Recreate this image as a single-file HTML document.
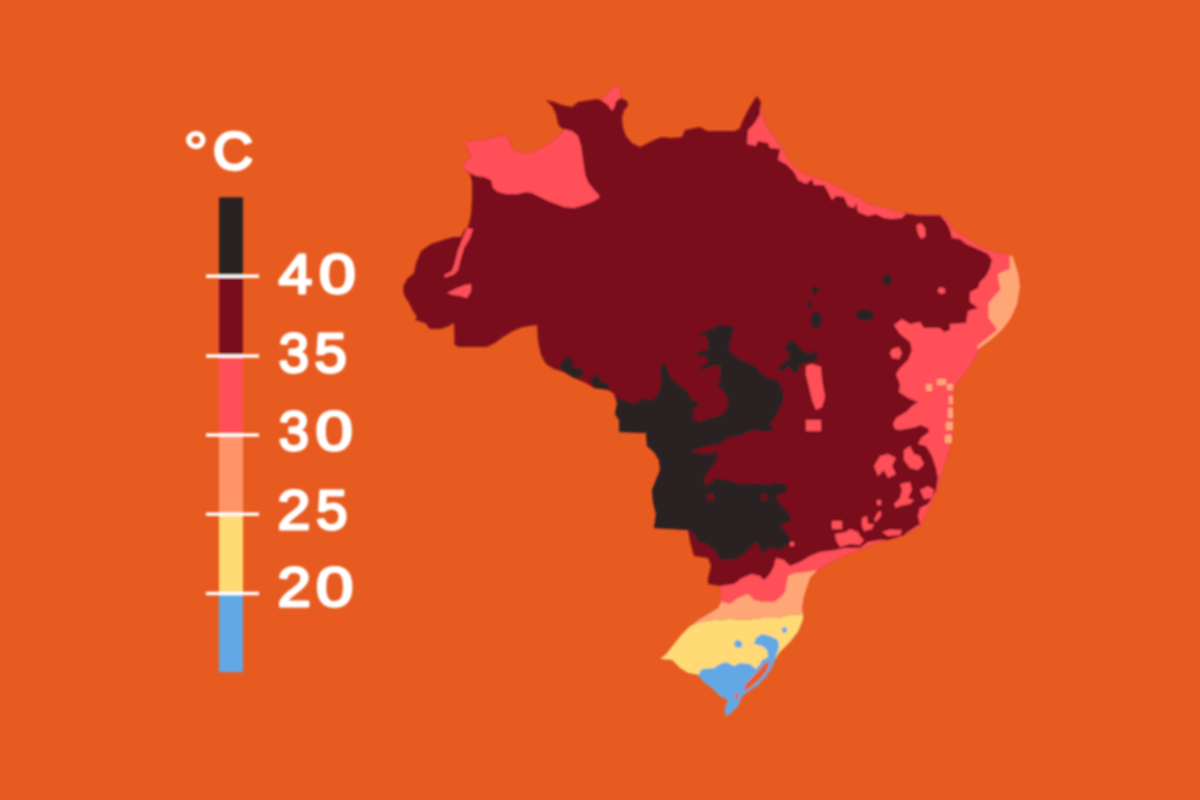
<!DOCTYPE html>
<html lang="pt-BR">
<head>
<meta charset="utf-8">
<title>Mapa de temperaturas do Brasil</title>
<style>
html,body{margin:0;padding:0;background:#E85B20;}
body{width:1200px;height:800px;overflow:hidden;position:relative;font-family:"Liberation Sans",sans-serif;}
svg{position:absolute;left:0;top:0;display:block;}
.lbl{font-family:"Liberation Sans",sans-serif;font-weight:normal;fill:#fff;stroke:#fff;stroke-width:2.8;stroke-linejoin:round;}
</style>
</head>
<body>
<svg width="1200" height="800" viewBox="0 0 1200 800">
<rect width="1200" height="800" fill="#E85B20"/>
<defs><filter id="soft" x="-5%" y="-5%" width="110%" height="110%"><feGaussianBlur stdDeviation="0.9"/></filter></defs>
<g id="legend" filter="url(#soft)">
<rect x="219" y="197.3" width="24" height="78.9" fill="#2A2023"/>
<rect x="219" y="276.2" width="24" height="79.8" fill="#7A0C1E"/>
<rect x="219" y="356" width="24" height="79.0" fill="#FF4F58"/>
<rect x="219" y="435" width="24" height="79.2" fill="#FF9468"/>
<rect x="219" y="514.2" width="24" height="79.3" fill="#FFDA75"/>
<rect x="219" y="593.5" width="24" height="78.5" fill="#62A8E5"/>
<rect x="206" y="274.5" width="53" height="3.4" fill="#fff"/>
<rect x="206" y="354.3" width="53" height="3.4" fill="#fff"/>
<rect x="206" y="433.3" width="53" height="3.4" fill="#fff"/>
<rect x="206" y="512.5" width="53" height="3.4" fill="#fff"/>
<rect x="206" y="591.8" width="53" height="3.4" fill="#fff"/>
<text class="lbl" aria-label="°C" y="169.9" font-size="57" style="stroke-width:3.4"><tspan x="183.57" dy="2.5" textLength="24.81" lengthAdjust="spacingAndGlyphs" style="stroke-width:2">°</tspan><tspan x="213.31" dy="-3.3" textLength="39.43" lengthAdjust="spacingAndGlyphs" style="font-size:52.3px">C</tspan></text>
<text class="lbl" aria-label="40" y="292.9" font-size="55.2"><tspan x="278.7" textLength="33.5" lengthAdjust="spacingAndGlyphs">4</tspan><tspan x="319.13" textLength="36.77" lengthAdjust="spacingAndGlyphs">0</tspan></text>
<text class="lbl" aria-label="35" y="372.4" font-size="55.2"><tspan x="278.75" textLength="30.29" lengthAdjust="spacingAndGlyphs">3</tspan><tspan x="314.63" textLength="32.33" lengthAdjust="spacingAndGlyphs">5</tspan></text>
<text class="lbl" aria-label="30" y="449.9" font-size="55.2"><tspan x="278.75" textLength="30.29" lengthAdjust="spacingAndGlyphs">3</tspan><tspan x="315.61" textLength="37.29" lengthAdjust="spacingAndGlyphs">0</tspan></text>
<text class="lbl" aria-label="25" y="528.6" font-size="55.2"><tspan x="277.57" textLength="32.85" lengthAdjust="spacingAndGlyphs">2</tspan><tspan x="316.16" textLength="31.26" lengthAdjust="spacingAndGlyphs">5</tspan></text>
<text class="lbl" aria-label="20" y="605.9" font-size="55.2"><tspan x="277.55" textLength="33.4" lengthAdjust="spacingAndGlyphs">2</tspan><tspan x="316.11" textLength="37.29" lengthAdjust="spacingAndGlyphs">0</tspan></text>
</g>
<g id="map" filter="url(#soft)">
<path d="M466,140 L476,141 L488,139 L498,136 L506,135 L509,140 L511,147 L518,152 L528,153 L538,150 L548,144 L556,138 L562,132 L563,128.5 L560,127 L558,124 L556,114 L552,106 L546,100 L554,102 L562,105 L572,107 L578,102 L590,100 L598,99 L602,101 L604,96 L610,90 L616,85 L620,88 L621,98 L627,101 L628,106 L624,110 L622,118 L623,128 L626,136 L632,143 L640,147 L646,144 L654,140 L662,137 L670,138 L682,137 L685,130 L690,129 L700,127 L707,131 L735,131 L740,128 L742,122 L748,110 L754,100 L757,96 L761,102 L761,110 L766,126 L774,136 L782,148 L788,160 L798,170 L810,176 L824,180 L836,186 L848,192 L860,198 L868,204 L880,207 L892,210 L902,213 L906,212.5 L920,214.5 L940,214.5 L948,220 L952,228 L960,234 L970,240 L984,248 L996,252 L1008,255 L1014,262 L1018.5,274.5 L1020,287 L1017,304.5 L1011,318 L1002,330 L990,340.5 L980,349 L974,360 L968,370 L960,380 L955,386 L953,400 L954,420 L952,440 L948,454 L944,466 L940,480 L936,494 L930,506 L924,518 L918,528 L908,534 L896,538 L880,542 L864,548 L850,554 L836,560 L820,569 L810,578 L808,584 L804,596 L802,608 L803,620 L798,632 L790,642 L780,652 L775,660 L771.5,668 L766,676.5 L758,685 L748,691.5 L742,696 L738,706 L730,714 L725,716 L725,708 L728,700 L720,696 L712,688 L704,682 L698,675 L688,673 L680,668 L672,660 L660,659 L666,654 L674,644 L682,634 L690,626 L698,620 L708,614 L718,608 L722,600 L720,586 L708,584 L708,578 L711,566 L708,558 L694,556 L690,542 L688,530 L654,528 L656,514 L653,502 L652,490 L656,480 L660,470 L659,460 L654,452 L647,446 L646,433 L619,432 L619,420 L615,414 L617,404 L614,394 L608,390 L594,388 L586,383 L574,378 L564,372 L554,369 L546,364 L541,355 L538,341 L537,325 L523,327 L513,331 L503,337 L495,343 L487,347 L459,347 L454.6,345 L454,323 L449,326 L441,329 L430,329 L425,323 L415,320 L417,317 L413,311 L409,303 L404,295 L403,287 L407,279 L414,273 L416,263 L421,251 L431,244 L443,240 L453,237 L461,237 L465,229 L467,228 L469,224 L471,214 L472,200 L472,182 L470,174 L463,169 L465,162 L472,156 L468,150 L466,144Z" fill="#7A0C1E"/>
<path d="M466,140 L476,141 L488,139 L498,136 L506,135 L509,140 L511,147 L518,152 L528,153 L538,150 L548,144 L556,138 L562,132 L564,129 L572,131 L578,136 L581,146 L583,160 L585,174 L588,182 L594,190 L599,195 L599,198 L592,202 L584,205 L574,208 L564,207 L556,204 L548,201 L540,197 L532,193 L526,192 L518,194 L506,194 L498,192 L493,188 L491,180 L484,177 L476,176 L468,172 L463,169 L465,162 L472,156 L468,150 L466,144ZM467,228 L473,229 L470,238 L464,248 L461,258 L458,270 L454,274.5 L445,277.5 L444,275 L452,271 L455,262 L458,250 L462,240ZM447,293 L455,289 L465,285 L471,284 L471,291 L467,298 L461,296 L453,295ZM602,101 L604,96 L610,90 L616,85 L620,88 L621,98 L616,101 L615,106 L612,111 L608,105ZM760,102 L761,110 L766,126 L774,136 L782,148 L788,160 L798,170 L810,176 L824,180 L836,186 L848,192 L860,198 L868,204 L880,207 L892,210 L902,213 L906,212.5 L920,214.5 L940,214.5 L948,220 L952,228 L960,234 L970,240 L984,248 L996,252 L1008,255 L1014,262 L1018.5,274.5 L1020,287 L1017,304.5 L1011,318 L1002,330 L990,340.5 L980,349 L974,360 L968,370 L960,380 L955,386 L953,400 L954,420 L952,440 L948,454 L944,466 L940,480 L936,494 L930,506 L924,518 L918,528 L908,534 L896,538 L880,542 L864,548 L850,554 L836,560 L820,569 L810,578 L808,584 L804,596 L802,608 L774,606 L754,604 L738,602 L730,606 L722,604 L720,586 L708,584 L720,586 L734,584 L742,578 L752,574 L760,576 L764,580 L770,574 L774,566 L776,558 L784,560 L790,566 L800,562 L810,556 L820,552 L836,550 L844,548 L860,548 L868,542 L880,540 L888,540 L900,538 L908,532 L920,524 L918,516 L920,508 L928,504 L932,498 L936,490 L938,478 L936,468 L932,456 L926,446 L918,444 L921,438 L929,432 L928,428 L920,425 L916,427 L900,430 L895,429 L893,424 L896,418 L906,412 L912,406 L918,402 L908,398 L899,392 L900,384 L896,374 L900,368 L908,360 L912,350 L910,342 L900,334 L894,325 L902,319 L910,324 L920,322 L924,328 L940,328 L944,332 L950,330 L950,324 L966,323 L968,311 L978,308 L970,302 L970,292 L978,288 L980,282 L986,276 L990,268 L992,260 L988,254 L980,250 L966,244 L960,239 L952,238 L950,230 L946,222 L940,215.5 L920,215.5 L906,213.5 L902,218 L892,219 L884,218 L876,214 L868,216 L858,212 L856,203 L854,208 L848,206 L844,197 L836,196 L832,200 L828,192 L824,185 L814,185 L812,179 L806,184 L798,180 L794,172 L786,164 L778,160 L780,149 L770,148 L768,143 L758,141 L756,146 L747,144 L748,130 L754,124 L760,114ZM916.6,225 L921,223 L925,228 L925.6,236 L922,239 L919,236 L917,230ZM938,289 L941,287 L945,289 L945,293 L941,294 L938,292ZM892,349 L899,347 L902,353 L899,359 L892,358 L890,353ZM806,366 L812,364 L821,367 L822,380 L825,397 L822,407 L816,410 L812,400 L809,387 L806,375ZM806,420 L821,420 L821,431 L806,431ZM874,466 L880,456 L888,454 L896,458 L892,466 L896,474 L888,478 L884,470 L878,476ZM904,450 L910,446 L914,454 L920,456 L924,464 L918,470 L910,468 L904,460ZM900,484 L910,482 L912,490 L908,498 L914,500 L910,504 L900,506 L896,508 L894,504 L900,498 L902,490ZM920,490 L928,486 L934,490 L932,498 L924,499ZM877,500 L881,500 L881,505 L877,505ZM874,520 L878,512 L881,511 L881,516 L876,522ZM832,521 L842,521 L842,529 L832,529ZM862,518 L867,516 L868,524 L874,524 L872,529 L864,531 L862,526ZM835,534 L846,532 L850,529 L858,532 L860,536 L864,540 L860,545 L850,544 L840,547 L836,540ZM882,532 L890,529.5 L902,530 L900,535 L888,536Z" fill="#FF4F58"/>
<path d="M722,602 L730,604 L738,598 L748,594 L754,600 L762,602 L774,602 L780,598 L785,592 L787,582 L788,576 L794,573.5 L802,572.5 L810,571.5 L817,570 L810,578 L808,584 L804,596 L802,608 L803,614 L790,615 L778,618 L762,618 L746,620 L730,619 L714,620 L700,622 L690,626 L698,620 L708,614 L718,608 L722,600Z" fill="#FFA677"/>
<path d="M1009.5,255 L1013,257 L1018.5,274.5 L1020,287 L1017,304.5 L1011,318 L1002,330 L990,340.5 L978,349 L977,346 L985,340 L992,334 L997,330 L994.5,325.5 L988.5,318 L988.5,303 L1000.5,289.5 L997.5,274.5 L1010,268.5ZM926,384 L932,384 L932,391 L926,391ZM937,379 L946,379 L946,385 L937,385ZM947,384 L953,384 L953,390 L947,390ZM949,396 L953,396 L953,404 L949,404ZM948,408 L953,408 L953,418 L948,418ZM946,422 L953,422 L953,430 L946,430ZM945,435 L952,435 L952,443 L945,443Z" fill="#FFA677"/>
<path d="M690,626 L700,622 L714,620 L730,619 L746,620 L762,618 L778,618 L790,615 L803,614 L803,620 L798,632 L790,642 L780,652 L775,660 L771.5,668 L766,676.5 L758,685 L748,691.5 L742,696 L738,706 L730,714 L725,716 L725,708 L728,700 L720,696 L712,688 L704,682 L698,675 L688,673 L680,668 L672,660 L660,659 L666,654 L674,644 L682,634Z" fill="#FFDA75"/>
<path d="M698,675 L702,669 L714,668 L720,664 L726,662 L734,666 L740,663 L750,664 L756,669 L760,664 L762,660 L768,657 L767,650 L762,646 L754,644 L756,638 L762,634 L770,636 L778,640 L779,647 L777,653 L775,660 L771.5,668 L766,676.5 L758,685 L748,691.5 L742,696 L738,706 L730,714 L725,716 L725,708 L728,700 L720,696 L712,688 L704,682ZM735,641 L738,640 L742,642 L742,647 L738,648 L734,646ZM782,628 L785,627 L787,629 L787,632 L784,633 L782,632Z" fill="#62A8E5"/>
<path d="M743.5,688 L748.5,681 L756.5,673 L763.5,665 L767.5,661 L769.5,663 L766.5,671 L759.5,679.5 L751.5,686.5 L745.5,690.5ZM735,694 L738.5,693 L737.5,700 L735.5,699Z" fill="#E85B20"/>
<path d="M566,357 L573,358 L572,366 L580,368 L584,372 L582,377 L574,378 L564,372 L560,368 L560,363ZM590,380 L598,373 L600,380 L608,384 L610,390 L594,388ZM617,397 L624,400 L634,404 L644,398 L652,400 L658,394 L661,384 L660,368 L664,362 L667,366 L670,376 L680,386 L688,392 L692,400 L700,403 L694,410 L693,420 L700,422 L708,418 L720,416 L726,410 L728,400 L724,392 L718,386 L720,376 L720,366 L712,366 L702,370 L700,368 L708,362 L706,357 L696,355 L698,351 L708,350 L708,342 L706,336 L698,334 L714,328 L718,325 L734,326 L732,336 L729,348 L734,356 L746,362 L756,366 L760,372 L768,378 L778,380 L782,388 L784,398 L780,408 L776,416 L770,424 L774,430 L764,432 L752,430 L740,436 L728,438 L720,444 L708,446 L694,450 L692,452 L706,454 L718,452 L716,462 L708,472 L704,480 L706,486 L716,478 L728,480 L740,484 L752,483 L768,484 L780,483 L788,486 L786,492 L776,496 L780,504 L788,512 L792,520 L780,526 L788,534 L792,542 L780,550 L768,548 L764,554 L756,542 L750,548 L744,554 L734,560 L720,560 L716,552 L706,544 L698,542 L694,534 L688,530 L654,528 L656,514 L653,502 L652,490 L656,480 L660,470 L659,460 L654,452 L647,446 L646,433 L619,432 L619,420 L615,414 L617,404ZM785,348 L789,340 L796,342 L800,348 L808,353 L816,352 L819,358 L813,362 L806,363 L800,366 L797,374 L792,371 L789,366 L783,371 L777,369 L782,364 L788,360 L789,354ZM819,290 L817.8,292.8 L815,294 L812.2,292.8 L811,290 L812.2,287.2 L815,286 L817.8,287.2ZM812,304 L811.1,306.1 L809,307 L806.9,306.1 L806,304 L806.9,301.9 L809,301 L811.1,301.9ZM822,320 L820.2,326.4 L816,329 L811.8,326.4 L810,320 L811.8,313.6 L816,311 L820.2,313.6ZM875,315 L872.1,319.2 L865,321 L857.9,319.2 L855,315 L857.9,310.8 L865,309 L872.1,310.8ZM892,280 L890.5,284.2 L887,286 L883.5,284.2 L882,280 L883.5,275.8 L887,274 L890.5,275.8ZM810,358 L808.8,360.8 L806,362 L803.2,360.8 L802,358 L803.2,355.2 L806,354 L808.8,355.2Z" fill="#2A2023"/>
<path d="M707,495 L713,494 L714,500 L708,501ZM761,495 L766,494 L767,500 L762,501Z" fill="#7A0C1E"/>
<path d="M794.5,544 L793.8,545.8 L792,546.5 L790.2,545.8 L789.5,544 L790.2,542.2 L792,541.5 L793.8,542.2Z" fill="#FF4F58"/>
</g>
</svg>
</body>
</html>
